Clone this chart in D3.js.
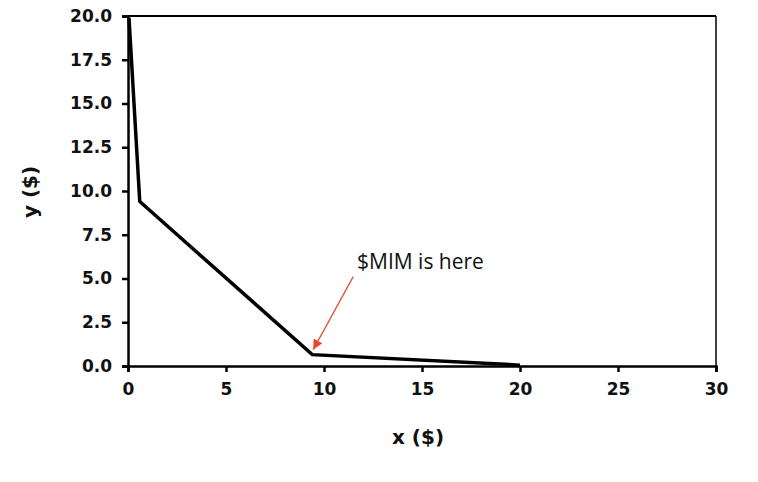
<!DOCTYPE html>
<html><head><meta charset="utf-8">
<script src="https://cdn.jsdelivr.net/npm/d3@7"></script>
<style>body{margin:0;background:#fff}svg{display:block}</style>
</head><body>
<svg id="c" width="758" height="482"></svg>
<script>
const xVals = [0.05, 0.6, 9.4, 20.0];
const yVals = [19.9, 9.4, 0.65, 0.05];
const xTicks = [0, 5, 10, 15, 20, 25, 30];
const yTicks = [0, 2.5, 5, 7.5, 10, 12.5, 15, 17.5, 20];
const annotation = {text: "$MIM is here", x: 9.4, y: 0.65};

const svg = d3.select("#c");
const L = 128, R = 716, T = 16, B = 366;
const x = d3.scaleLinear().domain([0, 30]).range([L, R]);
const y = d3.scaleLinear().domain([0, 20]).range([B, T]);

// frame top & right
svg.append("line").attr("x1", L).attr("x2", R).attr("y1", T).attr("y2", T).attr("stroke", "#000").attr("stroke-width", 2);
svg.append("line").attr("x1", R).attr("x2", R).attr("y1", T).attr("y2", B).attr("stroke", "#000").attr("stroke-width", 1.5);

const font = "'DejaVu Sans', Verdana, sans-serif";
const xa = svg.append("g").attr("transform", `translate(0,${B})`)
  .call(d3.axisBottom(x).tickValues(xTicks).tickFormat(d3.format("d")).tickSize(6).tickPadding(11));
const ya = svg.append("g").attr("transform", `translate(${L},0)`)
  .call(d3.axisLeft(y).tickValues(yTicks).tickFormat(d3.format(".1f")).tickSize(6).tickPadding(10));
[xa, ya].forEach(a => {
  a.select(".domain").attr("stroke", "#000").attr("stroke-width", 2.5);
  a.selectAll(".tick line").attr("stroke", "#000").attr("stroke-width", 2.5);
  a.selectAll("text").attr("font-family", font).attr("font-weight", "bold").attr("font-size", 17).attr("fill", "#111");
});

// line
const pts = xVals.map((v, i) => [v, yVals[i]]);
svg.append("path").datum(pts)
  .attr("d", d3.line().x(d => x(d[0])).y(d => y(d[1])))
  .attr("fill", "none").attr("stroke", "#000").attr("stroke-width", 3.5).attr("stroke-linejoin", "miter");

// axis titles
svg.append("text").attr("x", 418).attr("y", 444).attr("text-anchor", "middle")
  .attr("font-family", font).attr("font-weight", "bold").attr("font-size", 20).attr("fill", "#111").text("x ($)");
svg.append("text").attr("transform", "translate(37,192) rotate(-90)").attr("text-anchor", "middle")
  .attr("font-family", font).attr("font-weight", "bold").attr("font-size", 20).attr("fill", "#111").text("y ($)");

// annotation
svg.append("defs").append("marker").attr("id", "ah").attr("viewBox", "0 0 10 10")
  .attr("refX", 10).attr("refY", 5).attr("markerWidth", 10).attr("markerHeight", 10)
  .attr("markerUnits", "userSpaceOnUse").attr("orient", "auto")
  .append("path").attr("d", "M0,0 L10,5 L0,10 z").attr("fill", "#e8452c");
const ax = x(annotation.x), ay = y(annotation.y);
svg.append("line").attr("x1", ax + 41).attr("y1", ay - 78).attr("x2", ax + 1).attr("y2", ay - 5)
  .attr("stroke", "#e8452c").attr("stroke-width", 1.2).attr("marker-end", "url(#ah)");
svg.append("text").attr("x", 357).attr("y", 269).attr("font-family", "'Open Sans', Calibri, sans-serif")
  .attr("font-size", 21).attr("fill", "#111").text(annotation.text);
</script>
</body></html>
